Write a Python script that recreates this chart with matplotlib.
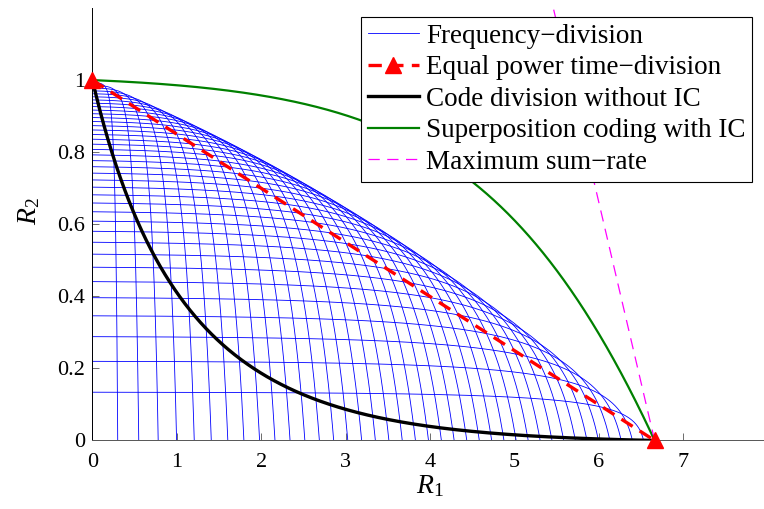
import numpy as np
import matplotlib
matplotlib.use("Agg")
import matplotlib.pyplot as plt

# two-user Gaussian broadcast channel, P/N for the strong and the weak user
snr_strong = 100.0
snr_weak = 1.0

# bandwidth share of user 1 for each frequency-division curve
bandwidth_shares = np.linspace(0.0, 1.0, 41)
# power share of user 1 swept along every curve
power_shares = np.linspace(0.0, 1.0, 2001)

r1_max = np.log2(1 + snr_strong)
r2_max = np.log2(1 + snr_weak)

plt.rcParams["font.family"] = ["Liberation Serif", "DejaVu Serif"]
plt.rcParams["mathtext.fontset"] = "custom"
plt.rcParams["mathtext.rm"] = "Liberation Serif"
plt.rcParams["mathtext.it"] = "Liberation Serif:italic"

fig = plt.figure(figsize=(7.64, 5.09), dpi=100)
ax = fig.add_axes([0.121, 0.1346, 0.883, 0.8497])


def fdma_rates(a, b):
    with np.errstate(divide="ignore", invalid="ignore"):
        r1 = np.where(a > 0, a * np.log2(1 + b * snr_strong / np.maximum(a, 1e-12)), 0.0)
        r2 = np.where(a < 1, (1 - a) * np.log2(1 + (1 - b) * snr_weak / np.maximum(1 - a, 1e-12)), 0.0)
    return r1, r2


for i, a in enumerate(bandwidth_shares):
    r1, r2 = fdma_rates(a, power_shares)
    ax.plot(r1, r2, color="blue", lw=0.6, label="Frequency\u2212division" if i == 0 else None)

ax.plot([0, r1_max], [r2_max, 0], "--", color="red", lw=2.4, dashes=(4, 2.5),
        marker="^", markersize=12, clip_on=False, zorder=5,
        label="Equal power time\u2212division")

b = power_shares
r2_sc = np.log2(1 + (1 - b) * snr_weak / (1 + b * snr_weak))
r1_cd = np.log2(1 + b * snr_strong / (1 + (1 - b) * snr_strong))
r1_sc = np.log2(1 + b * snr_strong)
ax.plot(r1_cd, r2_sc, color="black", lw=2.4, label="Code division without IC")
ax.plot(r1_sc, r2_sc, color=(0, 0.5, 0), lw=1.6, label="Superposition coding with IC")

# line of constant sum-rate through the corner point
sum_rate = r1_max
r2_line = np.array([0.0, 1.5])
ax.plot(sum_rate - r2_line, r2_line, "--", color="magenta", lw=0.9, dashes=(9, 6),
        label="Maximum sum\u2212rate")

ax.set_xlim(0, 1.2 * r1_max)
ax.set_ylim(0, 1.2)
ax.set_xticks(range(0, 8))
ax.set_yticks([0, 0.2, 0.4, 0.6, 0.8, 1])
ax.set_yticklabels(["0", "0.2", "0.4", "0.6", "0.8", "1"])
ax.tick_params(direction="in", length=5, width=0.6, color="#555555", labelsize=16)
ax.tick_params(axis="x", pad=9)
ax.tick_params(axis="y", pad=5)
for s in ("top", "right"):
    ax.spines[s].set_visible(False)
ax.spines["left"].set_linewidth(0.7)
ax.spines["bottom"].set_linewidth(0.7)
ax.spines["bottom"].set_color("#555555")

ax.set_xlabel(r"$R_1$", fontsize=20, labelpad=1)
ax.set_ylabel(r"$R_2$", fontsize=20)
ax.yaxis.set_label_coords(-0.074, 0.53)

leg = ax.legend(loc="upper right", bbox_to_anchor=(0.978, 0.979), borderaxespad=0,
                fontsize=19.5, frameon=True, fancybox=False, edgecolor="black",
                handlelength=1.9, handletextpad=0.25, labelspacing=0.24,
                borderpad=0.25, numpoints=1)
leg.get_frame().set_linewidth(0.8)
leg.get_frame().set_alpha(1)

fig.savefig("out.png", dpi=100)
